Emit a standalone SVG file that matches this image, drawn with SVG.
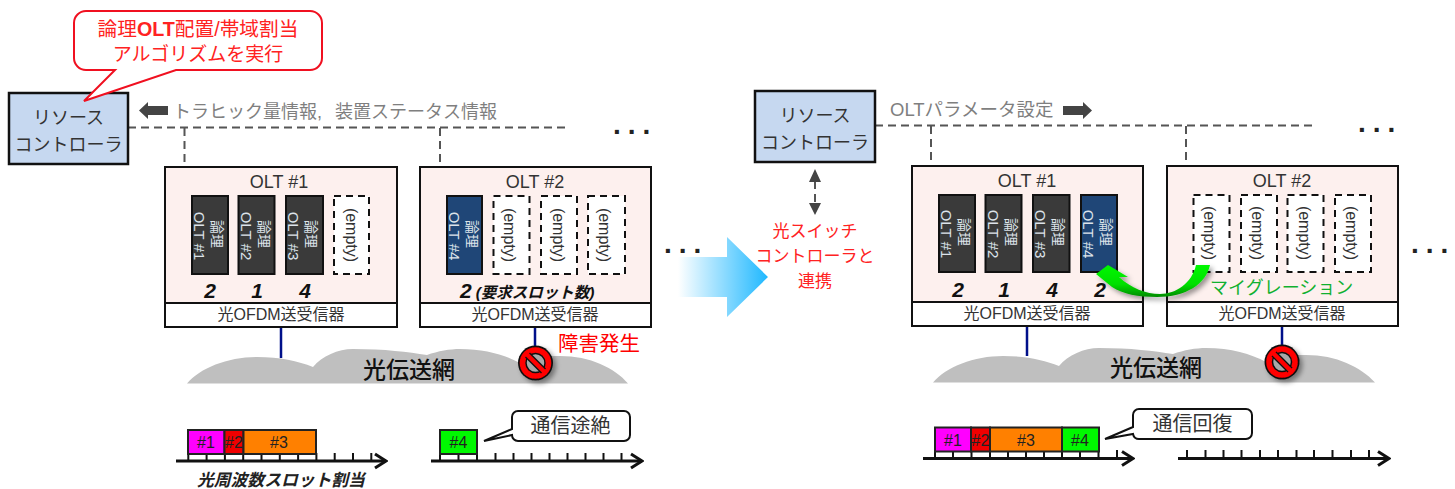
<svg xmlns="http://www.w3.org/2000/svg" width="1455" height="489" viewBox="0 0 1455 489">
<defs>
<style>
text{font-family:"Liberation Sans","Noto Sans CJK JP",sans-serif;fill:#333}
.c{text-anchor:middle}
.ctrl{fill:#c6d8f0;stroke:#111;stroke-width:2.5}
.olt{fill:#fdf0ee;stroke:#111;stroke-width:2}
.tx{fill:#fff;stroke:#111;stroke-width:2}
.mod{fill:#3a3a3a;stroke:#111;stroke-width:2}
.modb{fill:#1f4677;stroke:#111;stroke-width:2}
.emp{fill:#fff;stroke:#111;stroke-width:2;stroke-dasharray:7 5}
.mt{fill:#dde3ea;font-size:14px}
.mo{fill:#dde3ea;font-size:15px}
.et{font-size:16px;fill:#333}
.t16{font-size:16px}
.t18{font-size:18px}
.num{font-size:21px;font-weight:bold;font-style:italic;fill:#111}
.dash{fill:none;stroke:#555;stroke-width:2;stroke-dasharray:8 5}
.fib{fill:none;stroke:#00108a;stroke-width:2.5}
.cloud{fill:#bfbfbf}
.net{font-size:23px;font-weight:500;fill:#111}
.dots{font-size:28px;font-weight:bold;letter-spacing:7px;fill:#222}
.ax{fill:none;stroke:#111;stroke-width:3;marker-end:url(#open)}
.tick{fill:none;stroke:#111;stroke-width:2}
.bar{stroke:#222;stroke-width:2}
.bt{font-size:16px;fill:#222}
.call{fill:#fff;stroke:#111;stroke-width:2}
.red{fill:#f22}
</style>
<marker id="open" viewBox="-14 -10 16 20" refX="0" refY="0" markerWidth="16" markerHeight="20" markerUnits="userSpaceOnUse" orient="auto"><path d="M-11,-7 L0,0 L-11,7" fill="none" stroke="#111" stroke-width="3"/></marker>
<linearGradient id="big" x1="0" x2="1" y1="0" y2="0"><stop offset="0" stop-color="#fff"/><stop offset="1" stop-color="#1fb8ff"/></linearGradient>
<linearGradient id="gr" x1="0" x2="0" y1="0" y2="1"><stop offset="0" stop-color="#00f800"/><stop offset=".6" stop-color="#00e000"/><stop offset="1" stop-color="#008a00"/></linearGradient>
<filter id="sh" x="-30%" y="-30%" width="170%" height="170%"><feDropShadow dx="3" dy="3" stdDeviation="2.5" flood-color="#000" flood-opacity=".4"/></filter>
<g id="ban" filter="url(#sh)"><circle r="17.5" fill="#111"/><circle r="15.8" fill="#f00"/><circle r="9.5" fill="#a8a8a8" stroke="#111" stroke-width="1.5"/><path d="M-8,-8L8,8" stroke="#111" stroke-width="7"/><path d="M-10,-10L10,10" stroke="#f00" stroke-width="4.5"/></g>
</defs>

<g id="connectors">
<path class="dash" d="M128,127.5H567M184.5,128V166M440,128V166"/>
<path class="dash" d="M875,125.500H1314"/>
<path class="dash" d="M931,126V165M1186,126V165"/>
<path class="dash" d="M815,181V205"/>
<path d="M809,182L815,169L821,182ZM809,203L815,215L821,203Z" fill="#444"/>
<path d="M168,106H148V102L139,110.5L148,119V115H168Z" fill="#444"/>
<path d="M1063,106H1083V102L1092,110.5L1083,119V115H1063Z" fill="#444"/>
<path class="fib" d="M281,327V358M535,327V364M1027,325V356M1282,326V363"/>
</g>

<g id="cloud-left"><path class="cloud" d="M187,383.5C200,368 228,357 257,357C280,357 298,361 313,367C322,356 338,349 353,349C385,349 408,352 427,355C438,351 450,349 460,349C485,349 505,355 520,363C532,358 545,356 560,356C590,356 615,368 628,383.5Z"/><text class="c net" x="409" y="378">光伝送網</text></g>
<g id="cloud-right"><path class="cloud" d="M933,382.5C946,367 974,356 1003,356C1026,356 1044,360 1059,366C1068,355 1084,348 1099,348C1131,348 1154,351 1173,354C1184,350 1196,348 1206,348C1231,348 1251,354 1266,362C1278,357 1291,355 1306,355C1336,355 1361,367 1375,382.5Z"/><text class="c net" x="1156" y="376">光伝送網</text></g>

<g id="ctrl-left"><rect class="ctrl" x="9" y="93" width="119" height="71"/><text class="c" x="68.500" y="124" font-size="18">リソース</text><text class="c" x="68.500" y="151" font-size="18">コントローラ</text></g>
<g id="ctrl-right"><rect class="ctrl" x="755" y="91" width="120" height="71"/><text class="c" x="815" y="122" font-size="18">リソース</text><text class="c" x="815" y="149" font-size="18">コントローラ</text></g>

<g id="callout-algo"><path d="M86,11H310a12,12 0 0 1 12,12V58a12,12 0 0 1 -12,12H176L84,101L115,70H86a12,12 0 0 1 -12,-12V23a12,12 0 0 1 12,-12Z" fill="#fff" stroke="#f01020" stroke-width="2"/>
<text class="c red" x="198" y="36" font-size="19.7">論理<tspan font-weight="bold">OLT</tspan>配置/帯域割当</text>
<text class="c red" x="198" y="61" font-size="19">アルゴリズムを実行</text></g>

<text id="label-traffic" x="173" y="118" font-size="18" style="fill:#7f7f7f">トラヒック量情報,<tspan dx="8"> 装置ステータス情報</tspan></text>
<text id="label-param" x="890" y="116" font-size="18.500" style="fill:#7f7f7f">OLTパラメータ設定</text>

<text class="dots" x="613" y="134">...</text>
<text class="dots" x="664" y="253">...</text>
<text class="dots" x="1358" y="132">...</text>
<text class="dots" x="1411" y="253">...</text>

<g id="olt1-left"><rect class="olt" x="165" y="167" width="232" height="160"/><rect class="tx" x="165" y="303" width="232" height="24"/>
<text class="c t18" x="279" y="188">OLT #1</text><text class="c t16" x="281" y="320">光OFDM送受信器</text>
<rect class="mod" x="192" y="196" width="36" height="78"/><text class="c mt" transform="translate(212,234) rotate(90)">論理</text><text class="c mo" transform="translate(194,236) rotate(90)">OLT #1</text>
<rect class="mod" x="238.500" y="196" width="36" height="78"/><text class="c mt" transform="translate(258.500,234) rotate(90)">論理</text><text class="c mo" transform="translate(240.500,236) rotate(90)">OLT #2</text>
<rect class="mod" x="286" y="196" width="37" height="78"/><text class="c mt" transform="translate(306,234) rotate(90)">論理</text><text class="c mo" transform="translate(288,236) rotate(90)">OLT #3</text>
<rect class="emp" x="334" y="196" width="35" height="78"/><text class="c et" transform="translate(346,235) rotate(90)">(empty)</text>
<text class="c num" x="210" y="298">2</text><text class="c num" x="257" y="298">1</text><text class="c num" x="305" y="298">4</text></g>

<g id="olt2-left"><rect class="olt" x="420" y="167" width="231" height="160"/><rect class="tx" x="420" y="303" width="231" height="24"/>
<text class="c t18" x="535" y="188">OLT #2</text><text class="c t16" x="535" y="320">光OFDM送受信器</text>
<rect class="modb" x="447" y="196" width="35" height="78"/><text class="c mt" transform="translate(467,234) rotate(90)">論理</text><text class="c mo" transform="translate(449,236) rotate(90)">OLT #4</text>
<rect class="emp" x="493.500" y="196" width="36" height="78"/><text class="c et" transform="translate(504,235) rotate(90)">(empty)</text>
<rect class="emp" x="541" y="196" width="36" height="78"/><text class="c et" transform="translate(552.500,235) rotate(90)">(empty)</text>
<rect class="emp" x="588" y="196" width="37" height="78"/><text class="c et" transform="translate(599,235) rotate(90)">(empty)</text>
<text x="460" y="298" font-weight="bold" font-style="italic" font-size="21" style="fill:#111">2<tspan font-size="15.500" dx="4">(要求スロット数)</tspan></text></g>

<g id="olt1-right"><rect class="olt" x="912" y="166" width="231" height="160"/><rect class="tx" x="912" y="302" width="231" height="24"/>
<text class="c t18" x="1027" y="187">OLT #1</text><text class="c t16" x="1027" y="319">光OFDM送受信器</text>
<rect class="mod" x="939" y="195" width="36" height="77"/><text class="c mt" transform="translate(959,232) rotate(90)">論理</text><text class="c mo" transform="translate(941,234) rotate(90)">OLT #1</text>
<rect class="mod" x="985.500" y="195" width="36" height="77"/><text class="c mt" transform="translate(1005.500,232) rotate(90)">論理</text><text class="c mo" transform="translate(987.500,234) rotate(90)">OLT #2</text>
<rect class="mod" x="1033" y="195" width="36.500" height="77"/><text class="c mt" transform="translate(1053,232) rotate(90)">論理</text><text class="c mo" transform="translate(1035,234) rotate(90)">OLT #3</text>
<rect class="modb" x="1081" y="195" width="36" height="77"/><text class="c mt" transform="translate(1101,232) rotate(90)">論理</text><text class="c mo" transform="translate(1083,234) rotate(90)">OLT #4</text>
<text class="c num" x="958" y="297">2</text><text class="c num" x="1004" y="297">1</text><text class="c num" x="1052" y="297">4</text><text class="c num" x="1100" y="297">2</text></g>

<g id="olt2-right"><rect class="olt" x="1167" y="166" width="231" height="160"/><rect class="tx" x="1167" y="302" width="231" height="24"/>
<text class="c t18" x="1282" y="187">OLT #2</text><text class="c t16" x="1282" y="319">光OFDM送受信器</text>
<rect class="emp" x="1193.500" y="195" width="36" height="77"/><text class="c et" transform="translate(1204,233) rotate(90)">(empty)</text>
<rect class="emp" x="1241" y="195" width="36" height="77"/><text class="c et" transform="translate(1252,233) rotate(90)">(empty)</text>
<rect class="emp" x="1287.500" y="195" width="36" height="77"/><text class="c et" transform="translate(1298.500,233) rotate(90)">(empty)</text>
<rect class="emp" x="1335" y="195" width="36" height="77"/><text class="c et" transform="translate(1346,233) rotate(90)">(empty)</text></g>

<g id="migration"><path d="M1210,265C1206,284 1186,297 1157,297C1138,297 1123,294 1112,287L1096,274L1108,265L1128,277L1119,277C1131,288 1146,294 1160,294C1176,294 1192,283 1196,265Z" fill="url(#gr)" filter="url(#sh)"/>
<text x="1210" y="294" font-size="18" style="fill:#10b030">マイグレーション</text></g>

<g id="fault-left"><use href="#ban" x="535.500" y="363"/><text x="558" y="351" font-size="20.500" style="fill:#f00">障害発生</text></g>
<g id="fault-right"><use href="#ban" x="1282" y="362"/></g>

<g id="shift-arrow"><path d="M678,257H727V237L768,277L727,317V297H678Z" fill="url(#big)"/></g>
<g id="sw-ctrl"><text class="c red" x="815" y="237" font-size="17">光スイッチ</text><text class="c red" x="815" y="262" font-size="17">コントローラと</text><text class="c red" x="815" y="287" font-size="17">連携</text></g>

<g id="slots-left-1">
<path class="tick" d="M188.300,453V461M206.600,453V461M224.900,453V461M243.200,453V461M261.500,453V461M279.800,453V461M298.100,453V461M316.400,453V461M334.700,453V461M353,453V461M371.300,453V461"/>
<path class="ax" d="M176,461H386"/>
<rect class="bar" x="188" y="430" width="36.500" height="24" fill="#ff00ff"/><rect class="bar" x="224.500" y="430" width="19" height="24" fill="#f00000"/><rect class="bar" x="243.500" y="430" width="72.500" height="24" fill="#ff8000"/>
<text class="c bt" x="206" y="448">#1</text><text class="c bt" x="234" y="448">#2</text><text class="c bt" x="279" y="448">#3</text>
<text x="197" y="486" font-size="16.800" font-weight="bold" font-style="italic" style="fill:#222">光周波数スロット割当</text></g>

<g id="slots-left-2">
<path class="tick" d="M440,453V461M458.500,453V461M477,453V461M495.500,453V461M513.500,453V461M531.500,453V461M549.500,453V461M567.500,453V461M585.500,453V461M603.500,453V461M621.500,453V461"/>
<path class="ax" d="M431,461H642"/>
<rect class="bar" x="440" y="430" width="37" height="24" fill="#00f800"/><text class="c bt" x="458.500" y="448">#4</text>
<path class="call" d="M518,411H624a6,6 0 0 1 6,6V435a6,6 0 0 1 -6,6H518a6,6 0 0 1 -6,-6L484,441L512,429V417a6,6 0 0 1 6,-6Z"/><text class="c" x="570.500" y="433" font-size="20">通信途絶</text></g>

<g id="slots-right-1">
<path class="tick" d="M935,450V458.500M953,450V458.500M971.500,450V458.500M990,450V458.500M1008,450V458.500M1026,450V458.500M1044,450V458.500M1062,450V458.500M1080,450V458.500M1098.500,450V458.500M1117,450V458.500"/>
<path class="ax" d="M923,458.500H1133"/>
<rect class="bar" x="935" y="427.500" width="36" height="24" fill="#ff00ff"/><rect class="bar" x="971" y="427.500" width="19" height="24" fill="#f00000"/><rect class="bar" x="990" y="427.500" width="72" height="24" fill="#ff8000"/><rect class="bar" x="1062" y="427.500" width="37" height="24" fill="#00f800"/>
<text class="c bt" x="953" y="446">#1</text><text class="c bt" x="980.500" y="446">#2</text><text class="c bt" x="1026" y="446">#3</text><text class="c bt" x="1080" y="446">#4</text>
<path class="call" d="M1139,409H1246a6,6 0 0 1 6,6V433a6,6 0 0 1 -6,6H1139a6,6 0 0 1 -6,-5L1105,439L1133,427V415a6,6 0 0 1 6,-6Z"/><text class="c" x="1192.500" y="431" font-size="20">通信回復</text></g>

<g id="slots-right-2">
<path class="tick" d="M1187,450V458.500M1205.500,450V458.500M1223.500,450V458.500M1241.500,450V458.500M1260,450V458.500M1278,450V458.500M1296.500,450V458.500M1314,450V458.500M1332.500,450V458.500M1351,450V458.500M1369,450V458.500"/>
<path class="ax" d="M1178,458.500H1389"/></g>
</svg>
